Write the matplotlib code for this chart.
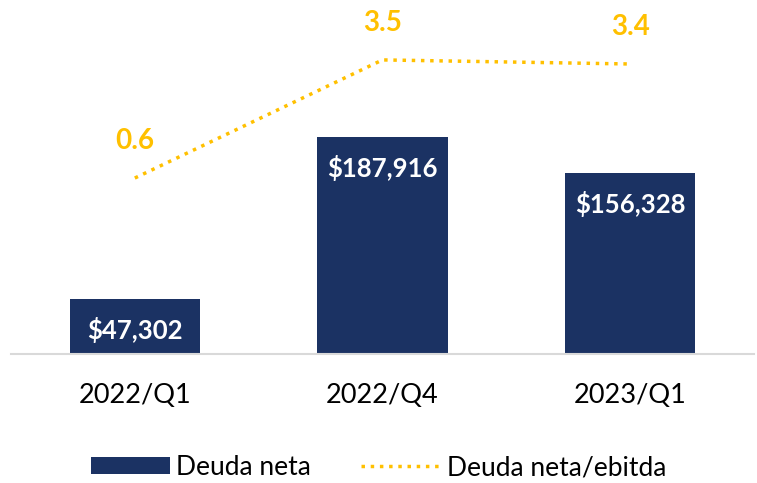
import numpy as np
from matplotlib import pyplot as plt

# Data
categories = ["2022/Q1", "2022/Q4", "2023/Q1"]
deuda_neta = [47302, 187916, 156328]
ratio = [0.6, 3.5, 3.4]

NAVY = "#1B3263"
GOLD = "#FFC000"

plt.rcParams["font.family"] = ["Lato", "DejaVu Sans"]

fig = plt.figure(figsize=(7.57, 4.83), dpi=100)
ax = fig.add_axes([11 / 757, 129 / 483, 743 / 757, 334 / 483])
x = np.arange(len(categories))

bars = ax.bar(x, deuda_neta, width=0.525, color=NAVY, label="Deuda neta", zorder=2)
ax.set_xlim(-0.5, 2.5)
ax.set_ylim(0, 289000)

for rect, v in zip(bars, deuda_neta):
    ax.annotate(f"${v:,}", (rect.get_x() + rect.get_width() / 2, v),
                xytext=(0, -31), textcoords="offset pixels",
                ha="center", va="center", color="white",
                fontsize=18.5, fontweight="bold")

for s in ["top", "right", "left"]:
    ax.spines[s].set_visible(False)
ax.spines["bottom"].set_color("#D9D9D9")
ax.spines["bottom"].set_linewidth(1.5)
ax.set_yticks([])
ax.set_xticks(x)
ax.set_xticklabels(categories, fontsize=19.5)
ax.tick_params(axis="x", length=0, pad=21)

ax2 = ax.twinx()
ax2.set_ylim(-3.72, 4.48)
ax2.set_yticks([])
for s in ax2.spines.values():
    s.set_visible(False)
line, = ax2.plot(x, ratio, color=GOLD, linestyle=":", linewidth=2.5,
                 label="Deuda neta/ebitda", clip_on=False)
for xi, r in zip(x, ratio):
    ax2.annotate(f"{r:.1f}", (xi, r), xytext=(0, 37), textcoords="offset pixels",
                 ha="center", va="center", color=GOLD, fontsize=20, fontweight="bold")

fig.legend(handles=[bars, line], loc="center", bbox_to_anchor=(0.5, 0.032),
           ncol=2, frameon=False, fontsize=19, handlelength=3.0,
           handleheight=0.6, columnspacing=1.9, handletextpad=0.25)

plt.savefig("out.png", dpi=100)
plt.close()
